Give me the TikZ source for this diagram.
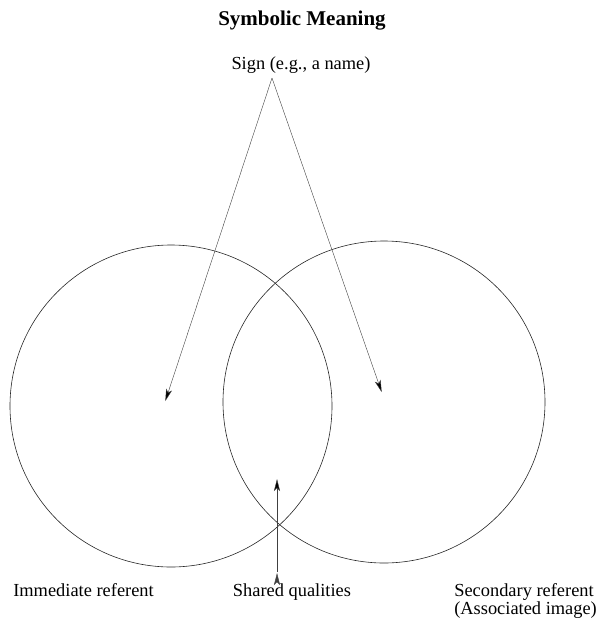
\documentclass[tikz,border=0pt]{standalone}
\usepackage{fontspec}
\setmainfont{Liberation Serif}
\usepackage{tikz}
\usetikzlibrary{calc,positioning,shapes,arrows,arrows.meta}

\begin{document}
\begin{tikzpicture}[
	x=1pt, y=-1pt,
	>={Stealth[length=12pt, width=6pt, inset=3pt]},
	shorten >=1pt,
	semithick,
	label/.style={font=\fontsize{18.4}{18}\selectfont, inner sep=0pt},
	ring/.style={circle, draw=black!85, minimum size=322pt, inner sep=0pt}
  ]

  \useasboundingbox (0,0) rectangle (598,622);

  \node[font=\fontsize{21}{24}\selectfont\bfseries, anchor=base, inner sep=0pt] (title) at (302,25) {Symbolic Meaning};
  \node[label, anchor=base] (sign) at (301,69) {Sign (e.g., a name)};

  \node[ring] (left) 	at (171,406) 	{};
  \node[ring] (right) 	at (384,402) 	{};

  \coordinate (apex) 	at (272,78);
  \coordinate (imm) 	at (165,402);
  \coordinate (sec) 	at (382,393);
  \coordinate (base) 	at (277,572);
  \coordinate (shared) 	at (277,478);

  \path[->, draw=black!75, thin] (apex) 	edge (imm)
            		edge (sec)
       	 (base) 	edge (shared);

  \node[label, anchor=base west] (immlabel) at (13,596) {Immediate referent};
  \node[label, anchor=base] (sharedlabel) at (292,596) {Shared qualities};
  \node[label, anchor=base west, align=left] (seclabel) at (454,614) {Secondary referent\\(Associated image)};
        
\end{tikzpicture}
\end{document}
